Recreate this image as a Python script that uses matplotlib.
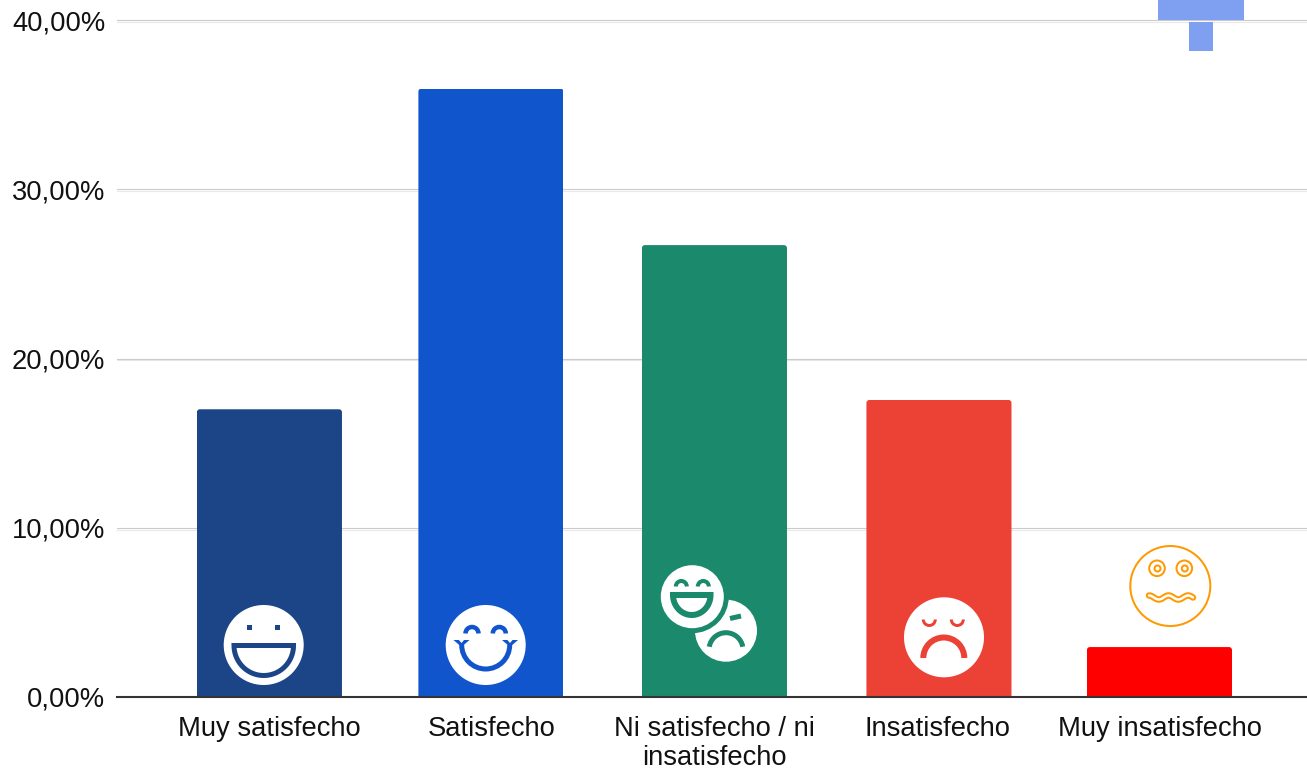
import numpy as np
import matplotlib
matplotlib.use('Agg')
import matplotlib.pyplot as plt
import matplotlib.patheffects as pe
from matplotlib.patches import Circle, Rectangle, Arc, FancyBboxPatch, Polygon, Wedge

plt.rcParams['font.family'] = ['Liberation Sans', 'DejaVu Sans']

categories = ['Muy satisfecho', 'Satisfecho', 'Ni satisfecho / ni\ninsatisfecho',
              'Insatisfecho', 'Muy insatisfecho']
values = [17.0, 35.95, 26.7, 17.55, 2.95]
colors = ['#1c4587', '#1155cc', '#1b8a6c', '#ec4235', '#ff0000']
y_ticks = [0, 10, 20, 30, 40]
y_labels = ['0,00%', '10,00%', '20,00%', '30,00%', '40,00%']

W, H = 1307, 770
PX = 72 / 100  # one pixel in points
X_UNIT = 222.5  # px per category

fig = plt.figure(figsize=(W / 100, H / 100), dpi=100, facecolor='white')
ax = fig.add_axes([117 / W, (H - 697) / H, 1190 / W, 697 / H])

xs = np.arange(len(categories))
bars = ax.bar(xs, values, width=0.652, color=colors, linewidth=0, zorder=2)

# the bars sit a little off the label centres in the original
nudges = [0, -1, 0, 2, 0]
for b, n in zip(bars, nudges):
    b.set_x(b.get_x() + n / X_UNIT)
    # rounded top corners, about 3 px
    clip = FancyBboxPatch((b.get_x(), -2), b.get_width(), b.get_height() + 2,
                          boxstyle='round,pad=0,rounding_size=0.0135',
                          mutation_aspect=13.1, transform=ax.transData)
    b.set_clip_path(clip)

ax.set_xlim(-0.685, 4.663)
ax.set_ylim(0, 697 / 16.925)
ax.set_yticks(y_ticks)
ax.set_yticklabels(y_labels, fontsize=19.7, color='#111111')
ax.set_xticks(xs)
ax.set_xticklabels(categories, fontsize=19.7, color='#111111', linespacing=1.18)
ax.tick_params(axis='both', length=0)
ax.tick_params(axis='y', pad=8.3)
ax.tick_params(axis='x', pad=13.5)
ax.grid(axis='y', color='#cbcbcb', linewidth=0.8, zorder=1,
        path_effects=[pe.SimpleLineShadow(offset=(0, -1.4), shadow_color='#e9e9e9', alpha=1),
                      pe.Normal()])
ax.set_axisbelow(True)
for s in ['top', 'right', 'left']:
    ax.spines[s].set_visible(False)
ax.spines['bottom'].set_color('#333333')
ax.spines['bottom'].set_linewidth(1.5)
ax.spines['bottom'].set_zorder(5)

# overlay in pixel coordinates for the pasted icons
ov = fig.add_axes([0, 0, 1, 1], facecolor='none')
ov.set_xlim(0, W)
ov.set_ylim(H, 0)
ov.axis('off')


def disc(x, y, r, c='white', z=3):
    ov.add_patch(Circle((x, y), r, facecolor=c, edgecolor='none', zorder=z))


def arc(x, y, r, t1, t2, c, lw=5, z=4):
    # angles are measured on screen, y axis is flipped so 180-360 is the upper half
    ov.add_patch(Arc((x, y), 2 * r, 2 * r, theta1=t1, theta2=t2, color=c,
                     lw=lw * PX, zorder=z, capstyle='butt'))


def half_mouth(x1, x2, top, bottom, c, lw=5, z=4):
    # open laughing mouth: outline of a half ellipse with a flat top
    t = np.linspace(0, np.pi, 60)
    cx = (x1 + x2) / 2
    px = cx + (x2 - x1) / 2 * np.cos(t)
    py = top + (bottom - top) * np.sin(t)
    ov.add_patch(Polygon(np.column_stack([px, py]), closed=True, facecolor='white',
                         edgecolor=c, lw=lw * PX, joinstyle='miter', zorder=z))


# face 1
c1 = colors[0]
disc(263.7, 645, 40)
for ex in [249.7, 277.7]:
    ov.add_patch(Rectangle((ex - 2.5, 625.3), 5, 5, facecolor=c1, edgecolor='none', zorder=4))
half_mouth(234, 293.5, 645.5, 675.5, c1)

# face 2
c2 = colors[1]
disc(485.7, 645, 40)
for ex in [472, 499.3]:
    arc(ex, 633.5, 6.5, 180, 360, c2, lw=4.5)
arc(485.7, 645, 24, 0, 180, c2, lw=5)
for ex in [461.5, 510]:
    ov.add_patch(Polygon([(ex - 8, 640), (ex + 8, 640), (ex, 647)], closed=True,
                         facecolor=c2, edgecolor='none', zorder=4))
    ov.add_patch(Polygon([(ex - 3, 639.5), (ex + 3, 639.5), (ex, 643)], closed=True,
                         facecolor='white', edgecolor='none', zorder=5))

# face 3, two masks
c3 = colors[2]
disc(726, 630.7, 31)
arc(726, 649.7, 17, 190, 350, c3, lw=5)
ov.plot([730, 741], [618.5, 616], color=c3, lw=5 * PX, solid_capstyle='butt', zorder=4)
disc(692.3, 596.7, 36.5, c3, z=5)
disc(692.3, 596.7, 31.5, z=6)
for ex in [681.3, 703.3]:
    arc(ex, 586.5, 5.5, 180, 360, c3, lw=4, z=7)
half_mouth(673, 710.5, 595, 615, c3, lw=6, z=7)

# face 4
c4 = colors[3]
disc(944, 637.3, 40)
for ex in [929.3, 957.3]:
    ov.add_patch(Wedge((ex, 619.5), 7.5, 0, 180, width=3, facecolor=c4, edgecolor='none', zorder=4))
arc(943.8, 658, 20.5, 180, 360, c4, lw=6)

# face 5, outline only
c5 = '#ff9900'
ov.add_patch(Circle((1170.3, 586), 40, facecolor='none', edgecolor=c5, lw=2 * PX, zorder=4))
for ex in [1157, 1184.3]:
    ov.add_patch(Circle((ex, 568.3), 7.8, facecolor='white', edgecolor=c5, lw=2 * PX, zorder=4))
    ov.add_patch(Circle((ex + 0.5, 568.5), 3, facecolor='white', edgecolor=c5, lw=2 * PX, zorder=4))
wx = np.linspace(1149, 1193, 80)
wy = 597.5 - 2 * np.cos((wx - 1149) / 44 * 2.25 * 2 * np.pi)
ov.plot(wx, wy, color=c5, lw=6.5 * PX, solid_capstyle='round', zorder=4)
ov.plot(wx, wy, color='white', lw=2.5 * PX, solid_capstyle='round', zorder=5)

# cropped shape at the top right
ov.add_patch(Rectangle((1158, 0), 86, 19.5, facecolor='#7f9ff0', edgecolor='none', zorder=4))
ov.add_patch(Rectangle((1188.5, 22), 24, 29, facecolor='#7f9ff0', edgecolor='none', zorder=4))

fig.savefig('out.png', dpi=100)
